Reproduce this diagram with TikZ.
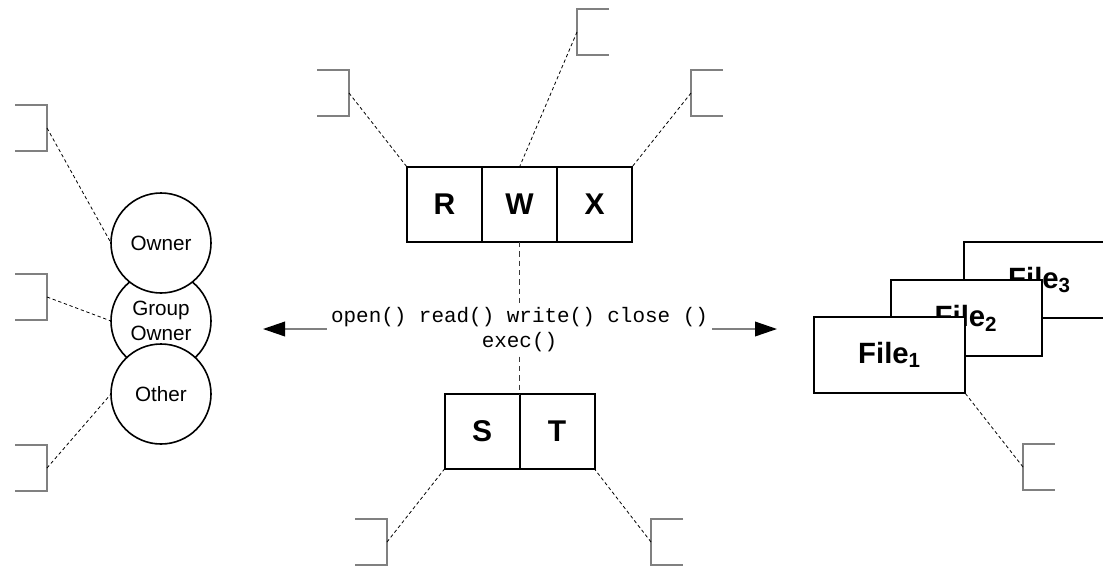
\documentclass[tikz,border=0pt]{standalone}
\usepackage{fontspec}
\setmainfont{Liberation Sans}
\setmonofont{Liberation Mono}
\usetikzlibrary{arrows.meta,positioning}

\tikzset{
    cell/.style={draw=black, line width=1.5pt, fill=white, minimum width=56.25pt, minimum height=56.25pt, inner sep=0pt, outer sep=0pt, font=\fontsize{22.5}{25}\selectfont\bfseries},
    file/.style={draw=black, line width=1.5pt, fill=white, minimum width=113.25pt, minimum height=57pt, inner sep=0pt, outer sep=0pt, font=\fontsize{22}{25}\selectfont\bfseries},
    role/.style={circle, draw=black, line width=1.2pt, fill=white, minimum size=75pt, inner sep=0pt, outer sep=0pt, align=center, font=\fontsize{15.5}{18.75}\selectfont},
    tie/.style={black, line width=0.6pt, dash pattern=on 2.5pt off 2pt},
    link/.style={gray!45!black, line width=1.2pt, dash pattern=on 4pt off 3pt},
    flow/.style={gray, line width=1.1pt, -{Triangle[length=16.5pt, width=11pt, color=black]}},
    tagl/.pic={\draw [gray, line width=1.1pt] (-32,-23) -- (0,-23) -- (0,23) -- (-32,23);},
    tagr/.pic={\draw [gray, line width=1.1pt] (32,-23) -- (0,-23) -- (0,23) -- (32,23);},
}

\begin{document}
\begin{tikzpicture}[x=0.75pt, y=-0.75pt]
    \clip (0,0) rectangle (1103,572);

    \node [file] (file3) at (1039.5,280) {File\textsubscript{3}};
    \node [file] (file2) at (966,318) {File\textsubscript{2}};
    \node [file] (file1) at (889.5,355) {File\textsubscript{1}};

    \node [role] (group) at (161,321) {Group\\Owner};
    \node [role] (owner) at (161,243) {Owner};
    \node [role] (other) at (161,394) {Other};

    \node [cell] (rbit) at (444.5,204.5) {R};
    \node [cell, right=0pt of rbit] (wbit) {W};
    \node [cell, right=0pt of wbit] (xbit) {X};
    \node [cell] (sbit) at (482,431.5) {S};
    \node [cell, right=0pt of sbit] (tbit) {T};

    \node [font=\fontsize{15.7}{18.75}\selectfont\ttfamily, align=center, inner sep=3pt] (calls) at (519.5,330) {open() read() write() close ()\\exec()};

    \coordinate (leftend) at (263,329);
    \coordinate (rightend) at (777,329);
    \draw [flow] (calls.west |- leftend) -- (leftend);
    \draw [flow] (calls.east |- rightend) -- (rightend);

    \draw [link] (wbit.south) -- (calls.north);
    \draw [link] (calls.south) -- (sbit.north east);

    \coordinate (ownertag) at (47,128);
    \coordinate (grouptag) at (47,297);
    \coordinate (othertag) at (47,468);
    \coordinate (rtag) at (349,93);
    \coordinate (wtag) at (577,32);
    \coordinate (xtag) at (691,93);
    \coordinate (stag) at (387,542);
    \coordinate (ttag) at (651,542);
    \coordinate (filetag) at (1023,467);

    \pic at (ownertag) {tagl};
    \pic at (grouptag) {tagl};
    \pic at (othertag) {tagl};
    \pic at (rtag) {tagl};
    \pic at (stag) {tagl};
    \pic at (wtag) {tagr};
    \pic at (xtag) {tagr};
    \pic at (ttag) {tagr};
    \pic at (filetag) {tagr};

    \draw [tie] (ownertag) -- (owner.west);
    \draw [tie] (grouptag) -- (group.west);
    \draw [tie] (othertag) -- (other.west);
    \draw [tie] (rtag) -- (rbit.north west);
    \draw [tie] (wtag) -- (wbit.north);
    \draw [tie] (xtag) -- (xbit.north east);
    \draw [tie] (stag) -- (sbit.south west);
    \draw [tie] (ttag) -- (tbit.south east);
    \draw [tie] (filetag) -- (file1.south east);
\end{tikzpicture}
\end{document}
